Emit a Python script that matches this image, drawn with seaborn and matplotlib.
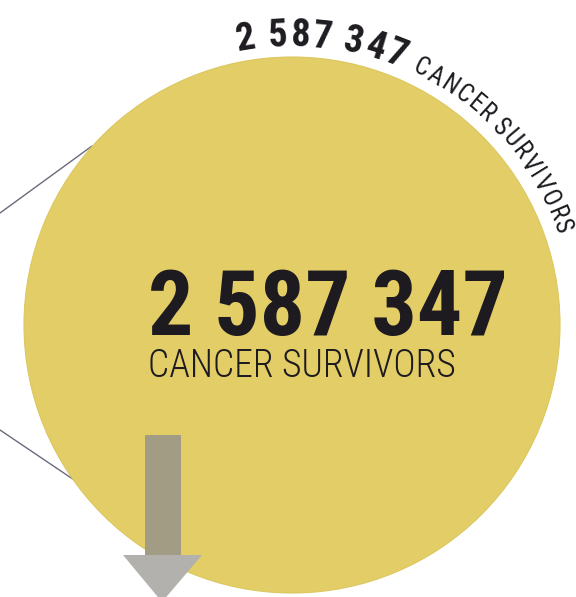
import numpy as np
import matplotlib
matplotlib.use("Agg")
import matplotlib.pyplot as plt
from matplotlib.patches import Circle, Polygon, Rectangle
from matplotlib.font_manager import FontProperties, fontManager
import seaborn as sns

# ---- data ----
survivors_value = 2587347
value_label = "2 587 347"
category_label = "CANCER SURVIVORS"

sns.set_theme(style="white")

names = {f.name for f in fontManager.ttflist}
FAM = 'DejaVu Sans'
for cand in ['Roboto Condensed', 'Liberation Sans Narrow', 'Roboto']:
    if cand in names:
        FAM = cand
        break
plt.rcParams['font.family'] = [FAM, 'DejaVu Sans']

W, H, DPI = 576, 597, 100
fig = plt.figure(figsize=(W / DPI, H / DPI), dpi=DPI)
ax = fig.add_axes([0, 0, 1, 1])
ax.set_xlim(0, W)
ax.set_ylim(H, 0)
ax.set_aspect('equal')
ax.axis('off')

YELLOW = '#e3cd66'
TEXT = '#1d1a20'
px = 72 / DPI  # px -> pt

cx, cy, r = 292, 325, 268

fig.canvas.draw()
renderer = fig.canvas.get_renderer()


def fp(size_px, weight):
    return FontProperties(family=[FAM, 'DejaVu Sans'], size=size_px * px, weight=weight)


def width(s, prop):
    w, h, d = renderer.get_text_width_height_descent(s, prop, ismath=False)
    return w


def fit_size(s, target_w, weight):
    base = 50
    return base * target_w / width(s, fp(base, weight))


# connector lines
sns.lineplot(x=[0, 92], y=[213, 146], color='#6b6a7c', lw=1.0, ax=ax, sort=False)
sns.lineplot(x=[0, 92], y=[430, 492], color='#6b6a7c', lw=1.0, ax=ax, sort=False)

ax.add_patch(Circle((cx, cy), r, facecolor=YELLOW, edgecolor='#dcc760', lw=0.8, zorder=2))

# arrow
ax.add_patch(Rectangle((145, 435), 36, 121, facecolor='#a29c84', edgecolor='none', zorder=3))
ax.add_patch(Polygon([(123, 555), (202, 555), (162, 602)], closed=True,
                     facecolor='#b2b1ae', edgecolor='none', zorder=3))

# central text
s1 = fit_size(value_label, 360, 'bold')
s2 = fit_size(category_label, 308, 'light')
ax.text(148, 335, value_label, fontproperties=fp(s1, 'bold'), color=TEXT,
        ha='left', va='baseline', zorder=4)
ax.text(148, 377, category_label, fontproperties=fp(s2, 'light'), color=TEXT,
        ha='left', va='baseline', zorder=4)


def arc_text(s, start_deg, end_deg, R, size_px, weight):
    prop = fp(size_px, weight)
    ws = []
    for ch in s:
        w = width(ch if ch != ' ' else 'i', prop)
        if ch == ' ':
            w *= 0.8
        ws.append(w)
    total = sum(ws)
    target = np.radians(start_deg - end_deg) * R
    k = target / total
    theta = np.radians(start_deg)
    for ch, w in zip(s, ws):
        w *= k
        mid = theta - (w / 2) / R
        x = cx + R * np.cos(mid)
        y = cy - R * np.sin(mid)
        if ch != ' ':
            ax.text(x, y, ch, fontproperties=prop, color=TEXT, ha='center',
                    va='baseline', rotation=np.degrees(mid) - 90,
                    rotation_mode='anchor', zorder=4)
        theta -= w / R


arc_text(value_label, 101.5, 66.5, 279, 38, 'bold')
arc_text(category_label, 65, 18.5, 280, 25, 'normal')

fig.savefig('out.png', dpi=DPI)
